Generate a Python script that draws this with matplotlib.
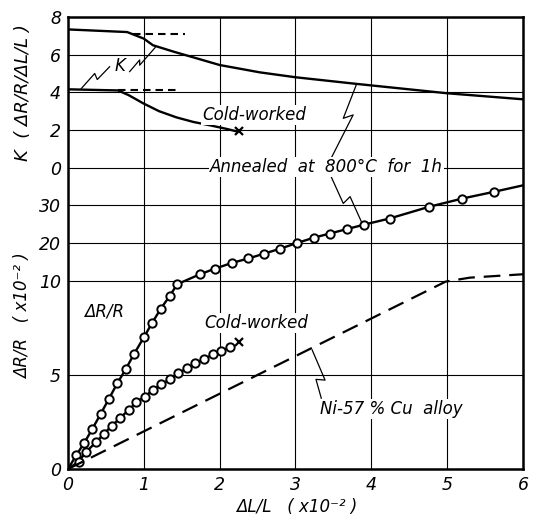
import numpy as np
import matplotlib
matplotlib.use("Agg")
import matplotlib.pyplot as plt

# K = (dR/R)/(dL/L), upper panel
ann_k_x = [0, 0.78, 1.0, 1.12, 1.4, 1.65, 2.0, 2.53, 3.0, 3.8, 4.4, 5.0, 6.0]
ann_k = [7.34, 7.2, 6.85, 6.5, 6.15, 5.86, 5.45, 5.06, 4.8, 4.45, 4.2, 3.95, 3.63]
cw_k_x = [0, 0.66, 0.8, 0.99, 1.2, 1.43, 1.65, 1.87, 2.1, 2.22]
cw_k = [4.16, 4.1, 3.85, 3.42, 3.0, 2.67, 2.43, 2.25, 2.05, 1.93]
ann_k_ext_x = [0.86, 1.54]
ann_k_ext = [7.11, 7.11]
cw_k_ext_x = [0.66, 1.47]
cw_k_ext = [4.12, 4.12]

# dR/R (x1e-2), lower panel
ann_x = [0.11, 0.21, 0.32, 0.43, 0.54, 0.65, 0.76, 0.87, 1.0, 1.11, 1.22, 1.34,
         1.44, 1.74, 1.94, 2.16, 2.38, 2.59, 2.80, 3.02, 3.24, 3.45, 3.68, 3.91,
         4.24, 4.76, 5.20, 5.62]
ann_r = [0.74, 1.36, 2.12, 2.92, 3.73, 4.55, 5.29, 6.10, 6.99, 7.76, 8.49, 9.18,
         9.81, 11.7, 13.2, 14.7, 15.9, 17.2, 18.5, 20.0, 21.4, 22.5, 23.7, 24.9,
         26.5, 29.6, 31.8, 33.6]
ann_end = (6.0, 35.3)
cw_x = [0.14, 0.24, 0.37, 0.47, 0.58, 0.69, 0.80, 0.90, 1.01, 1.12, 1.23, 1.34,
        1.45, 1.57, 1.68, 1.80, 1.91, 2.02, 2.13]
cw_r = [0.39, 0.92, 1.42, 1.86, 2.30, 2.72, 3.13, 3.54, 3.84, 4.19, 4.49, 4.76,
        5.08, 5.34, 5.61, 5.84, 6.09, 6.26, 6.46]
cw_end = (2.26, 6.75)
ni_x = [0, 4.98, 5.3, 6.0]
ni_r = [0, 9.95, 10.8, 11.7]

r_ticks = [0, 5, 10, 20, 30]
k_ticks = [0, 2, 4, 6, 8]


def rpos(r):
    # 0-10 linear, 10-30 compressed five times
    r = np.asarray(r, dtype=float)
    return np.where(r <= 10, r / 2, 5 + (r - 10) / 10)


def kpos(k):
    return 8 + np.asarray(k, dtype=float) / 2


fig = plt.figure(figsize=(5.41, 5.18), dpi=100)
ax = fig.add_axes([0.1257, 0.0946, 0.841, 0.8726])
ax.set_xlim(0, 6)
ax.set_ylim(0, 12)

ax.set_xticks(range(7))
ax.set_yticks(list(rpos(r_ticks)) + list(kpos(k_ticks)))
ax.set_yticklabels([str(v) for v in r_ticks] + [str(v) for v in k_ticks])
ax.grid(True, color="black", lw=0.8)
ax.set_axisbelow(True)
ax.tick_params(length=0, labelsize=12.5, pad=5)
for lbl in ax.get_xticklabels() + ax.get_yticklabels():
    lbl.set_style("italic")
for s in ax.spines.values():
    s.set_linewidth(1.8)

lw = 1.7
# K curves
ax.plot(ann_k_x, kpos(ann_k), c="k", lw=lw)
ax.plot(cw_k_x, kpos(cw_k), c="k", lw=lw)
ax.plot(ann_k_ext_x, kpos(ann_k_ext), c="k", lw=1.5, dashes=(3.6, 2.4))
ax.plot(cw_k_ext_x, kpos(cw_k_ext), c="k", lw=1.5, dashes=(3.6, 2.4))
ax.plot(cw_k_x[-1] + 0.04, kpos(cw_k[-1]), "x", c="k", ms=6, mew=1.6)

# dR/R curves
ax.plot([0] + ann_x + [ann_end[0]], rpos([0] + ann_r + [ann_end[1]]), c="k", lw=lw)
ax.plot(ann_x, rpos(ann_r), "o", ms=6, mfc="white", mec="k", mew=1.4)
ax.plot([0] + cw_x, rpos([0] + cw_r), c="k", lw=lw)
ax.plot(cw_x, rpos(cw_r), "o", ms=6, mfc="white", mec="k", mew=1.4)
ax.plot(cw_end[0], rpos(cw_end[1]), "x", c="k", ms=6, mew=1.6)
ax.plot(ni_x, rpos(ni_r), c="k", lw=1.6, dashes=(7.5, 4))

# zigzag leaders
zl = dict(c="k", lw=0.9)
ax.plot([0.175, 0.352, 0.386, 0.549], [10.10, 10.50, 10.34, 10.68], **zl)
ax.plot([0.813, 0.945, 0.945, 1.15], [10.55, 10.86, 10.72, 11.19], **zl)
ax.plot([3.80, 3.63, 3.76, 3.47], [10.19, 9.31, 9.40, 8.25], **zl)
ax.plot([3.45, 3.63, 3.72, 3.87], [7.85, 7.05, 7.23, 6.56], **zl)
ax.plot([3.22, 3.39, 3.27, 3.34], [3.16, 2.36, 2.38, 1.88], **zl)

box = dict(facecolor="white", edgecolor="none", pad=1)
tx = dict(fontsize=12, style="italic", ha="center", va="center")
ax.text(0.68, 10.70, "K", **tx)
ax.text(2.46, 9.40, "Cold-worked", bbox=box, **tx)
ax.text(3.41, 8.02, "Annealed  at  800°C  for  1h", bbox=box, **tx)
ax.text(0.47, 4.17, "ΔR/R", **tx)
ax.text(2.48, 3.88, "Cold-worked", bbox=box, **tx)
ax.text(4.27, 1.59, "Ni-57 % Cu  alloy", bbox=box, **tx)

fig.text(0.043, 0.822, "K  ( ΔR/R/ΔL/L )", rotation=90,
         **{**tx, "fontsize": 13})
fig.text(0.043, 0.39, "ΔR/R   ( x10⁻² )", rotation=90, **tx)
fig.text(0.549, 0.022, "ΔL/L   ( x10⁻² )", **tx)

fig.savefig("out.png", dpi=100)
